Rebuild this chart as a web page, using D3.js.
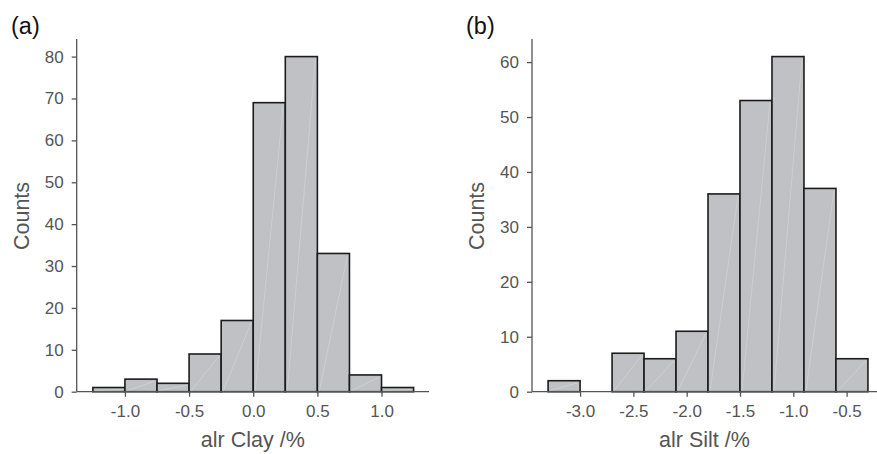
<!DOCTYPE html>
<html>
<head>
<meta charset="utf-8">
<script src="https://cdn.jsdelivr.net/npm/d3@7"></script>
<style>
  body { margin: 0; background: #fff; }
  svg { display: block; font-family: "Liberation Sans", Arial, sans-serif; }
</style>
</head>
<body>
<svg id="chart" width="877" height="454"></svg>
<script>
// panel (a): alr Clay
const clayEdges = [-1.25, -1.0, -0.75, -0.5, -0.25, 0.0, 0.25, 0.5, 0.75, 1.0, 1.25];
const clayCounts = [1, 3, 2, 9, 17, 69, 80, 33, 4, 1];
const clayXTicks = [-1.0, -0.5, 0.0, 0.5, 1.0];
const clayYTicks = [0, 10, 20, 30, 40, 50, 60, 70, 80];

// panel (b): alr Silt
const siltEdges = [-3.3, -3.0, -2.7, -2.4, -2.1, -1.8, -1.5, -1.2, -0.9, -0.6, -0.3];
const siltCounts = [2, 0, 7, 6, 11, 36, 53, 61, 37, 6];
const siltXTicks = [-3.0, -2.5, -2.0, -1.5, -1.0, -0.5];
const siltYTicks = [0, 10, 20, 30, 40, 50, 60];

const svg = d3.select("#chart");
const axisColor = "#555";
const fmt = (d) => d3.format(".1f")(d).replace("\u2212", "-");

let drawPanel = (opt) => {
  let x = d3.scaleLinear().domain(opt.xDomain).range([opt.left, opt.right]);
  let y = d3.scaleLinear().domain(opt.yDomain).range([opt.bottom, opt.top]);
  let g = svg.append("g");

  let bins = opt.counts.map((c, i) => ({ x0: opt.edges[i], x1: opt.edges[i + 1], n: c }))
    .filter((b) => b.n > 0);

  g.selectAll("rect.bar")
    .data(bins)
    .enter()
    .append("rect")
    .attr("class", "bar")
    .attr("x", (b) => x(b.x0))
    .attr("y", (b) => y(b.n))
    .attr("width", (b) => x(b.x1) - x(b.x0))
    .attr("height", (b) => y(0) - y(b.n))
    .attr("fill", "#c0c1c5")
    .attr("stroke", "#1c1c1c")
    .attr("stroke-width", 1.6);

  // faint diagonal streaks seen inside the bars
  g.selectAll("line.streak")
    .data(bins)
    .enter()
    .append("line")
    .attr("x1", (b) => x(b.x0) + 2)
    .attr("y1", y(0) - 1)
    .attr("x2", (b) => x(b.x1) - 2)
    .attr("y2", (b) => y(b.n) + 2)
    .attr("stroke", "#fff")
    .attr("stroke-opacity", 0.3)
    .attr("stroke-width", 0.7);

  let xAxis = g.append("g")
    .attr("transform", `translate(0,${opt.bottom})`)
    .call(d3.axisBottom(x).tickValues(opt.xTicks).tickFormat(fmt).tickSize(5).tickPadding(8));
  let yAxis = g.append("g")
    .attr("transform", `translate(${opt.left},0)`)
    .call(d3.axisLeft(y).tickValues(opt.yTicks).tickSize(5).tickPadding(8));

  [xAxis, yAxis].forEach((a) => {
    a.select(".domain").attr("stroke", axisColor).attr("stroke-width", 1.3)
      .attr("d", a === xAxis ? `M${opt.left},0H${opt.right}` : `M0,${opt.bottom}V${opt.top}`);
    a.selectAll(".tick line").attr("stroke", axisColor).attr("stroke-width", 1.3);
    a.selectAll(".tick text").attr("fill", axisColor).style("font-size", "17px");
  });

  g.append("text")
    .attr("x", (opt.left + opt.right) / 2)
    .attr("y", 447)
    .attr("text-anchor", "middle")
    .attr("fill", axisColor)
    .style("font-size", "21.5px")
    .text(opt.xLabel);

  g.append("text")
    .attr("transform", `translate(${opt.yLabelX},216) rotate(-90)`)
    .attr("text-anchor", "middle")
    .attr("fill", axisColor)
    .style("font-size", "21.5px")
    .text("Counts");

  g.append("text")
    .attr("x", opt.tagX)
    .attr("y", 34)
    .attr("fill", "#111")
    .style("font-size", "23.5px")
    .text(opt.tag);
};

drawPanel({
  edges: clayEdges, counts: clayCounts, xTicks: clayXTicks, yTicks: clayYTicks,
  xDomain: [-1.376, 1.37], yDomain: [0, 84.2],
  left: 76.7, right: 429, top: 39, bottom: 391.7,
  xLabel: "alr Clay /%", yLabelX: 29, tag: "(a)", tagX: 11
});

drawPanel({
  edges: siltEdges, counts: siltCounts, xTicks: siltXTicks, yTicks: siltYTicks,
  xDomain: [-3.451, -0.215], yDomain: [0, 64.2],
  left: 532, right: 877, top: 39, bottom: 391.7,
  xLabel: "alr Silt /%", yLabelX: 484, tag: "(b)", tagX: 466
});
</script>
</body>
</html>
